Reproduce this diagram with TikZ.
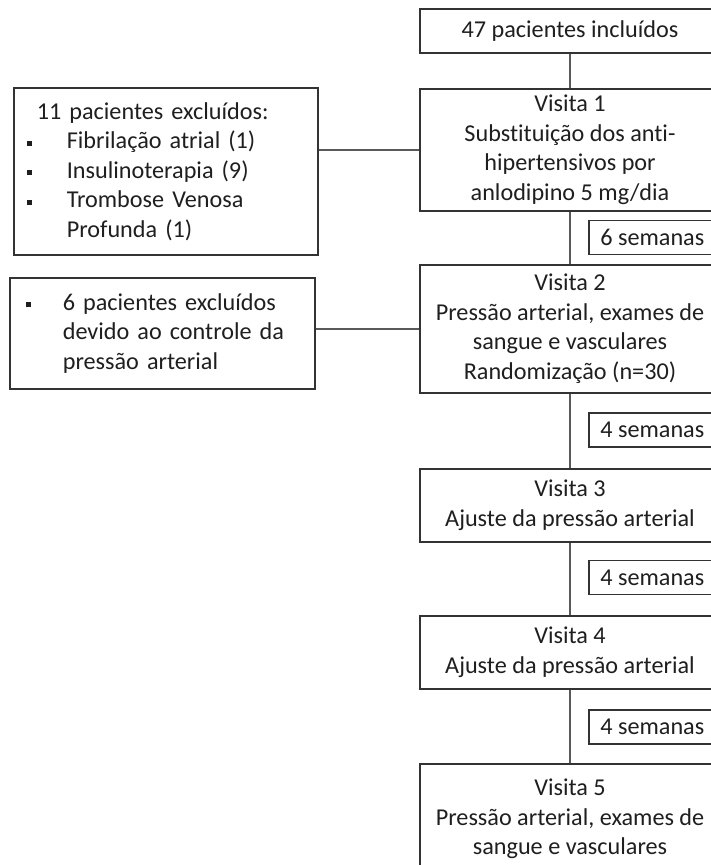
\documentclass[tikz,border=0pt]{standalone}
\usepackage{fontspec}
\setmainfont{Carlito}[Ligatures={NoCommon,NoRare,NoContextual}]
\newcommand{\sqbul}{\makebox[39.5pt][l]{\raisebox{3pt}{\rule{5pt}{5pt}}}}
\newcommand{\sqbulb}{\makebox[39.5pt][l]{\hspace{3pt}\raisebox{3pt}{\rule{5pt}{5pt}}}}
\begin{document}
\begin{tikzpicture}[x=1pt,y=-1pt,
  box/.style={draw=black!80, line width=1.6pt, fill=white, inner sep=0pt,
    font=\fontsize{24.2}{29.5}\selectfont, text=black!88},
  visit/.style={box, anchor=north, minimum width=300pt, align=center},
  weeks/.style={box, anchor=west, minimum width=127pt, minimum height=34pt},
  side/.style={box, anchor=north west, align=left, inner xsep=13.5pt},
  link/.style={draw=black!65, line width=1.5pt}]
\useasboundingbox (0,0) rectangle (711,865);
\clip (0,0) rectangle (711,865);

\node[visit, minimum height=44pt] (A) at (570,8) {47 pacientes incluídos};
\node[visit, minimum height=122pt] (V1) at (570,88) {Visita 1\\Subst\kern0pt itu\kern0pt ição dos ant\kern0pt i-\\hipertensivos por\\anlodipino 5 mg/dia};
\node[weeks] (W1) at (588,237.5) {6 semanas};
\node[visit, minimum height=128pt] (V2) at (570,264) {Visita 2\\Pressão arterial, exames de\\sangue e vasculares\\Randomização (n=30)};
\node[weeks] (W2) at (588,430) {4 semanas};
\node[visit, minimum height=73pt] (V3) at (570,468) {Visita 3\\Ajuste da pressão arterial};
\node[weeks] (W3) at (588,577.5) {4 semanas};
\node[visit, minimum height=73pt] (V4) at (570,615) {Visita 4\\Ajuste da pressão arterial};
\node[weeks] (W4) at (588,727) {4 semanas};
\node[visit, minimum height=110pt] (V5) at (570,763) {Visita 5\\Pressão arterial, exames de\\sangue e vasculares};

\node[side, text width=277pt, minimum height=167pt] (L1) at (13,87)
  {\hspace*{9.5pt}11 pacientes excluídos:\\
   \sqbul Fibrilação atrial (1)\\
   \sqbul Insulinoterapia (9)\\
   \sqbul Trombose Venosa\\
   \hspace*{39.5pt}Profunda (1)};
\node[side, text width=278pt, minimum height=111pt] (L2) at (9,277)
  {\sqbulb 6 pacientes excluídos\\
   \hspace*{39.5pt}devido ao controle da\\
   \hspace*{39.5pt}pressão arterial};

\draw[link] (A.south) -- (V1.north);
\draw[link] (V1.south) -- (V2.north);
\draw[link] (V2.south) -- (V3.north);
\draw[link] (V3.south) -- (V4.north);
\draw[link] (V4.south) -- (V5.north);
\draw[link] (L1.east |- V1.west) -- (V1.west);
\draw[link] (L2.east |- V2.west) -- (V2.west);
\end{tikzpicture}
\end{document}
